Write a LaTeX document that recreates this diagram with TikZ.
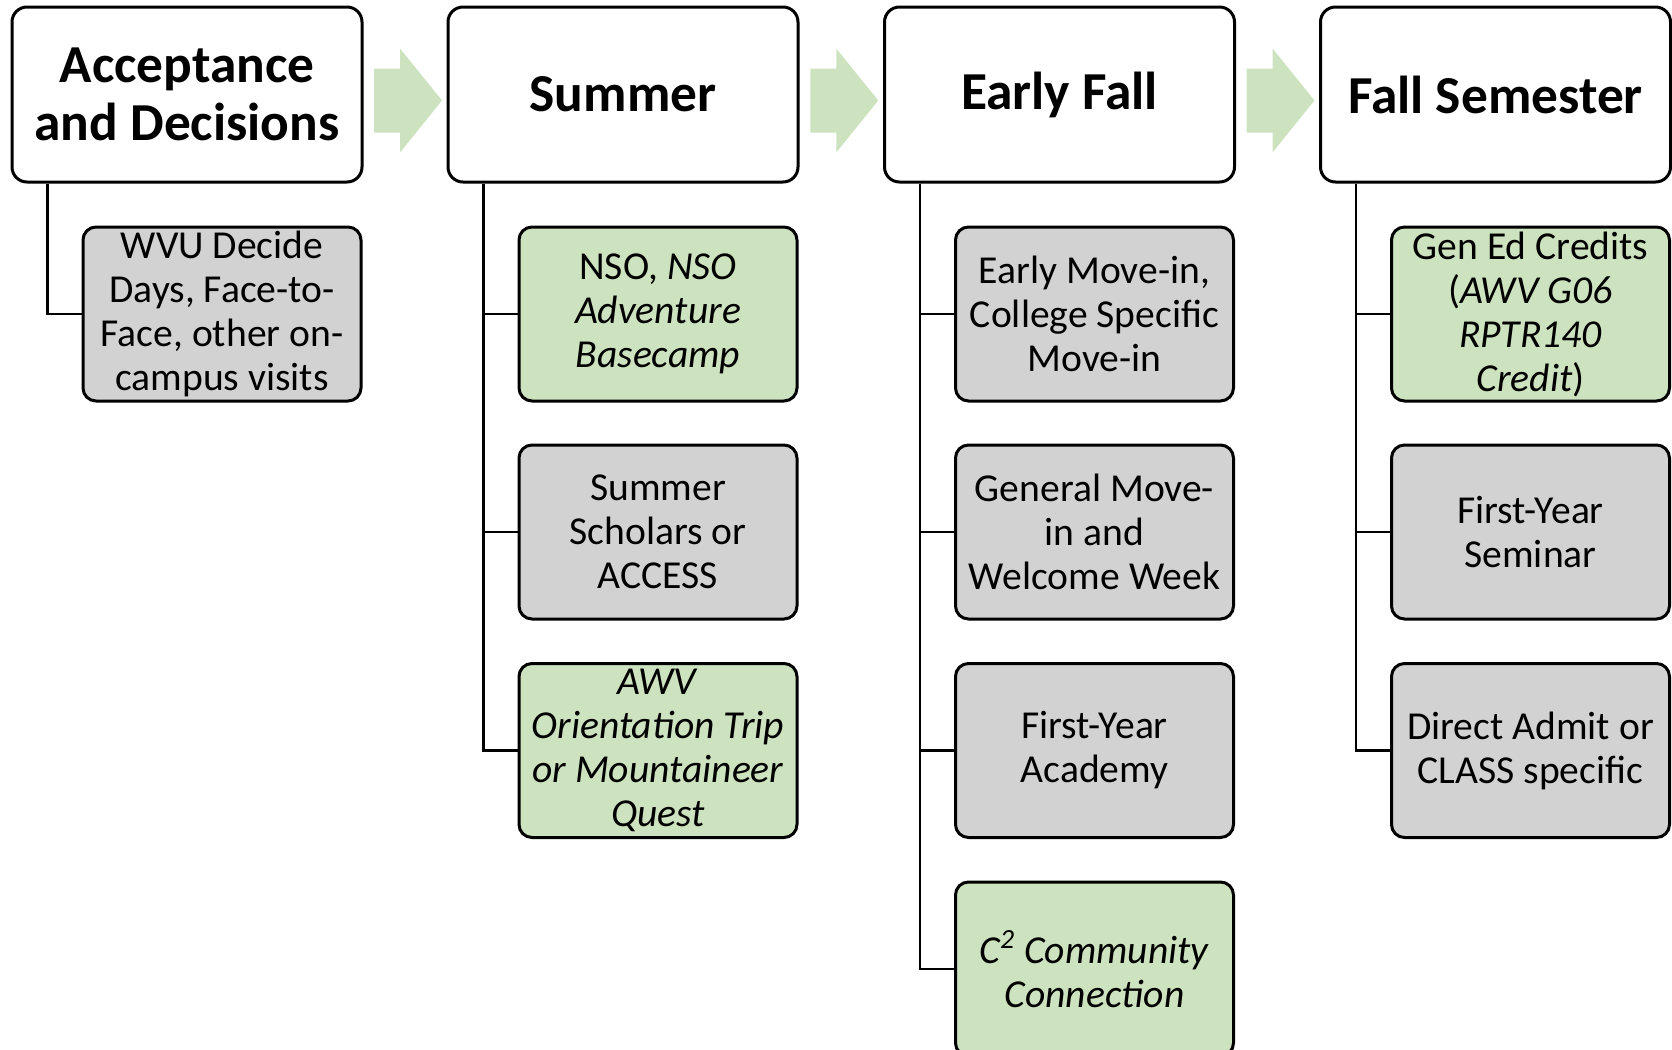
\documentclass[tikz,border=0pt]{standalone}
\usepackage{fontspec}
\setmainfont{Carlito}
\usetikzlibrary{calc}
\definecolor{boxgrey}{RGB}{210,210,210}
\definecolor{boxgreen}{RGB}{205,227,191}
\definecolor{arrowgreen}{RGB}{205,227,191}
\tikzset{
  head/.style={draw=black, line width=1.5pt, rounded corners=7.5pt, fill=white,
    minimum width=175pt, minimum height=87.5pt, inner sep=0pt, align=center,
    font=\fontsize{26.7}{29}\selectfont\bfseries},
  item/.style={draw=black, line width=1.5pt, rounded corners=6.5pt,
    minimum width=139pt, minimum height=87pt, inner sep=0pt, align=center,
    font=\fontsize{19.8}{22}\selectfont},
  grey/.style={item, fill=boxgrey},
  green/.style={item, fill=boxgreen},
  conn/.style={draw=black, line width=1.2pt},
}
\begin{document}
\begin{tikzpicture}[x=0.5pt,y=-0.5pt]
\useasboundingbox (0,0) rectangle (1672,1050);
\clip (0,0) rectangle (1672,1050);
% headers
\node[head] (h1) at (187,94.5) {Acceptance\\and Decisions};
\node[head] (h2) at (623,94.5) {Summer};
\node[head] (h3) at (1059.5,94.5) {Early Fall};
\node[head] (h4) at (1495.5,94.5) {Fall Semester};
% children
\node[grey] (c11) at (222,314) {WVU Decide\\Days, Face-to-\\Face, other on-\\campus visits};
\node[green] (c21) at (658,314) {NSO, \textit{NSO}\\\textit{Adventure}\\\textit{Basecamp}};
\node[grey] (c22) at (658,532) {Summer\\Scholars or\\ACCESS};
\node[green] (c23) at (658,750.5) {\textit{AWV}\\\textit{Orientation Trip}\\\textit{or Mountaineer}\\\textit{Quest}};
\node[grey] (c31) at (1094.5,314) {Early Move-in,\\College Specific\\Move-in};
\node[grey] (c32) at (1094.5,532) {General Move-\\in and\\Welcome Week};
\node[grey] (c33) at (1094.5,750.5) {First-Year\\Academy};
\node[green] (c34) at (1094.5,969) {\textit{C\textsuperscript{2} Community}\\\textit{Connection}};
\node[green] (c41) at (1530.5,314) {Gen Ed Credits\\(\textit{AWV G06}\\\textit{RPTR140}\\\textit{Credit})};
\node[grey] (c42) at (1530.5,532) {First-Year\\Seminar};
\node[grey] (c43) at (1530.5,750.5) {Direct Admit or\\CLASS specific};
% connectors
\draw[conn] ($(h1.south west)+(37,0)$) |- (c11.west);
\foreach \c in {c21,c22,c23} \draw[conn] ($(h2.south west)+(37,0)$) |- (\c.west);
\foreach \c in {c31,c32,c33,c34} \draw[conn] ($(h3.south west)+(37,0)$) |- (\c.west);
\foreach \c in {c41,c42,c43} \draw[conn] ($(h4.south west)+(37,0)$) |- (\c.west);
% arrows
\foreach \a/\b/\n in {h1/h2/a1,h2/h3/a2,h3/h4/a3}{
  \coordinate (\n) at ($(\a.east)!0.5!(\b.west)+(3,6)$);
  \fill[arrowgreen] (\n) ++(-34,-32) -- ++(26,0) -- ++(0,-20) -- ++(42,52)
     -- ++(-42,52) -- ++(0,-20) -- ++(-26,0) -- cycle;
}
\end{tikzpicture}
\end{document}
